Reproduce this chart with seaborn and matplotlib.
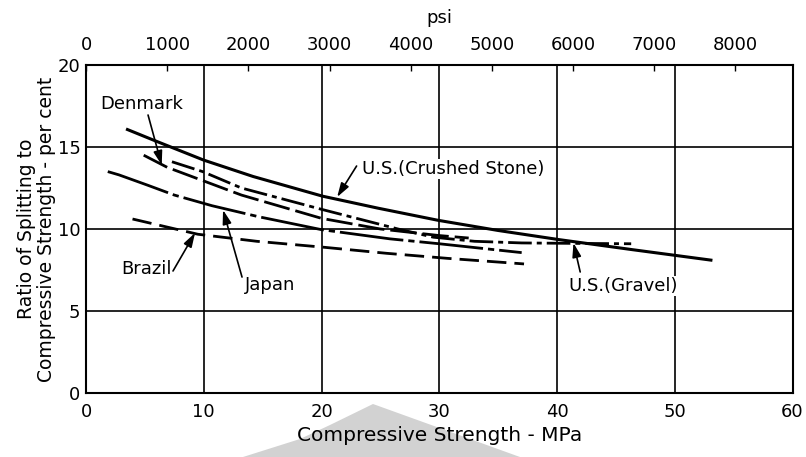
import matplotlib
matplotlib.use("Agg")
import matplotlib.pyplot as plt
import seaborn as sns
from matplotlib.patches import Polygon

# Compressive strength (MPa) and splitting/compressive ratio (per cent)
crushed_mpa = [3.4, 5.8, 10.0, 14.2, 20.1, 24.8, 29.9, 35.0, 40.1, 46.4, 53.2]
crushed_ratio = [16.1, 15.4, 14.2, 13.2, 12.0, 11.27, 10.53, 9.91, 9.36, 8.74, 8.09]

gravel_mpa = [7.3, 9.9, 13.2, 20.0, 26.5, 29.5, 33.0, 37.0, 42.0, 46.3]
gravel_ratio = [14.1, 13.5, 12.5, 11.2, 10.0, 9.5, 9.25, 9.15, 9.12, 9.1]

denmark_mpa = [4.9, 6.9, 13.2, 20.0, 25.0, 30.0, 32.5]
denmark_ratio = [14.5, 13.76, 12.07, 10.65, 10.0, 9.6, 9.45]

japan_mpa = [1.85, 2.8, 5.2, 7.5, 10.7, 14.65, 20.0, 25.8, 30.0, 37.0]
japan_ratio = [13.5, 13.3, 12.68, 12.07, 11.42, 10.75, 9.96, 9.4, 9.1, 8.56]

brazil_mpa = [3.95, 9.5, 14.5, 20.3, 25.5, 30.7, 37.2]
brazil_ratio = [10.61, 9.68, 9.25, 8.88, 8.52, 8.21, 7.87]

x_ticks = [0, 10, 20, 30, 40, 50, 60]
y_ticks = [0, 5, 10, 15, 20]
psi_ticks = [0, 1000, 2000, 3000, 4000, 5000, 6000, 7000, 8000]
PSI_PER_MPA = 145.04

sns.set_theme(style="white")
plt.rcParams["font.family"] = ["DejaVu Sans"]
plt.rcParams["lines.scale_dashes"] = False

W, H = 806, 457
fig = plt.figure(figsize=(W / 100, H / 100), dpi=100)
x0, x1, y_top, y_bot = 86, 792.5, 65, 393
ax = fig.add_axes([x0 / W, 1 - y_bot / H, (x1 - x0) / W, (y_bot - y_top) / H])

# curves: (x, y, linewidth, dash pattern in points or None for solid)
series = [
    (crushed_mpa, crushed_ratio, 2.2, None),
    (gravel_mpa, gravel_ratio, 2.0, (17, 3.6, 3.6, 3.6)),
    (denmark_mpa, denmark_ratio, 2.0, (19, 4.3)),
    (japan_mpa, japan_ratio, 2.0, (46, 3.6, 4.5, 3.6)),
    (brazil_mpa, brazil_ratio, 2.0, (14, 5.8)),
]
for xs, ys, lw, dashes in series:
    sns.lineplot(x=xs, y=ys, ax=ax, color="black", linewidth=lw,
                 sort=False, estimator=None, zorder=3)
    line = ax.lines[-1]
    line.set_dash_capstyle("butt")
    line.set_solid_capstyle("butt")
    if dashes is not None:
        line.set_dashes(dashes)

ax.set_xlim(0, 60)
ax.set_ylim(0, 20)
ax.set_xticks(x_ticks)
ax.set_yticks(y_ticks)
ax.grid(True, color="black", linewidth=1.2)
ax.set_axisbelow(True)
for sp in ax.spines.values():
    sp.set_color("black")
    sp.set_linewidth(1.5)
ax.tick_params(axis="both", length=0, labelsize=13, colors="black")
ax.tick_params(axis="x", pad=7)
ax.tick_params(axis="y", pad=4)

ax.set_xlabel("Compressive Strength - MPa", fontsize=14.5, labelpad=4, color="black")
ax.set_ylabel("Ratio of Splitting to\nCompressive Strength - per cent",
              fontsize=13.5, labelpad=1, color="black", linespacing=1.1)

# top axis in psi
secax = ax.secondary_xaxis("top", functions=(lambda m: m * PSI_PER_MPA,
                                             lambda p: p / PSI_PER_MPA))
secax.set_xticks(psi_ticks)
secax.tick_params(direction="in", length=4, width=1.0, pad=8, labelsize=13,
                  colors="black")
secax.set_xlabel("psi", fontsize=13, labelpad=9, color="black")

# curve labels with pointer arrows
labels = [
    ("Denmark", (4.76, 17.62), "center", (5.27, 16.95), (6.43, 13.9)),
    ("U.S.(Crushed Stone)", (23.4, 13.65), "left", (22.98, 13.84), (21.33, 11.95)),
    ("Brazil", (5.1, 7.56), "center", (7.39, 7.44), (9.26, 9.76)),
    ("Japan", (15.63, 6.59), "center", (13.25, 7.07), (11.64, 11.16)),
    ("U.S.(Gravel)", (45.6, 6.52), "center", (41.97, 7.38), (41.4, 9.15)),
]
for text, pos, ha, start, tip in labels:
    ax.text(pos[0], pos[1], text, ha=ha, va="center", fontsize=13,
            color="black", zorder=5,
            bbox=dict(facecolor="white", edgecolor="none", pad=0.5))
    ax.annotate("", xy=tip, xytext=start, zorder=5,
                arrowprops=dict(arrowstyle="-|>,head_length=0.7,head_width=0.22",
                                color="black", lw=1.2, mutation_scale=12,
                                shrinkA=0, shrinkB=0))

# light grey mark below the axis
shape = [(373, 404), (330, 425), (300, 439), (243, 457), (520, 457)]
fig.patches.append(Polygon([(px / W, 1 - py / H) for px, py in shape],
                           closed=True, transform=fig.transFigure,
                           facecolor="#d2d2d2", edgecolor="none", zorder=-1))

fig.savefig("out.png", dpi=100, facecolor="white")
